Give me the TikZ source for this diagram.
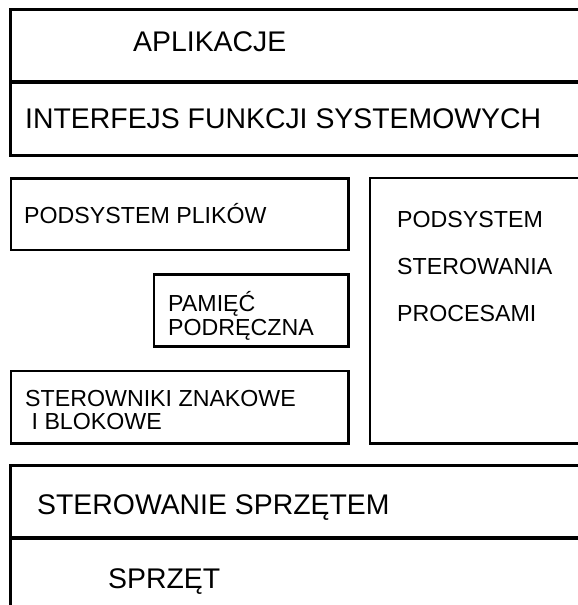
\documentclass[tikz,border=0pt]{standalone}
\usepackage{fontspec}
\setmainfont{Liberation Sans}

\tikzset{
  ramka/.style={line width=2.8pt},
  gruba/.style={line width=4.6pt},
  napis/.style={anchor=base west,inner sep=0pt,align=left},
  duzy/.style={napis,font=\fontsize{28.4}{30}\selectfont},
  sredni/.style={napis,font=\fontsize{23.2}{23.3}\selectfont}
}

\begin{document}
\begin{tikzpicture}[x=1pt,y=-1pt]
  \useasboundingbox (0,0) rectangle (578,605);
  \clip (0,0) rectangle (578,605);
  % warstwy gorne
  \draw[ramka] (600,9.5) -- (10.5,9.5) -- (10.5,155.5) -- (600,155.5);
  \draw[gruba] (9,82) -- (600,82);
  \node[duzy] (apl) at (133,51) {APLIKACJE};
  \node[duzy] (int) at (25,128) {INTERFEJS FUNKCJI SYSTEMOWYCH};
  % podsystemy
  \draw[ramka] (11,178.5) rectangle (348.5,250);
  \draw[ramka] (154,274.5) rectangle (348.5,346.5);
  \draw[ramka] (11,371) rectangle (348.5,443.5);
  \draw[ramka] (600,178) -- (370,178) -- (370,443.5) -- (600,443.5);
  \node[sredni] (plk) at (24,223.3) {PODSYSTEM PLIKÓW};
  \node[sredni] (pam) at (168,335) {PAMIĘĆ\\PODRĘCZNA};
  \node[sredni,font=\fontsize{23.2}{22.7}\selectfont] (ste) at (25,429.3) {STEROWNIKI ZNAKOWE\\\ I BLOKOWE};
  \node[sredni,font=\fontsize{23.2}{47.2}\selectfont] (prc) at (397,321.7) {PODSYSTEM\\STEROWANIA\\PROCESAMI};
  % warstwy dolne
  \draw[ramka] (600,465.5) -- (10.5,465.5) -- (10.5,620);
  \draw[gruba] (9,538) -- (600,538);
  \node[duzy] (spr) at (37,514) {STEROWANIE SPRZĘTEM};
  \node[duzy] (hw) at (108,588) {SPRZĘT};
\end{tikzpicture}
\end{document}
